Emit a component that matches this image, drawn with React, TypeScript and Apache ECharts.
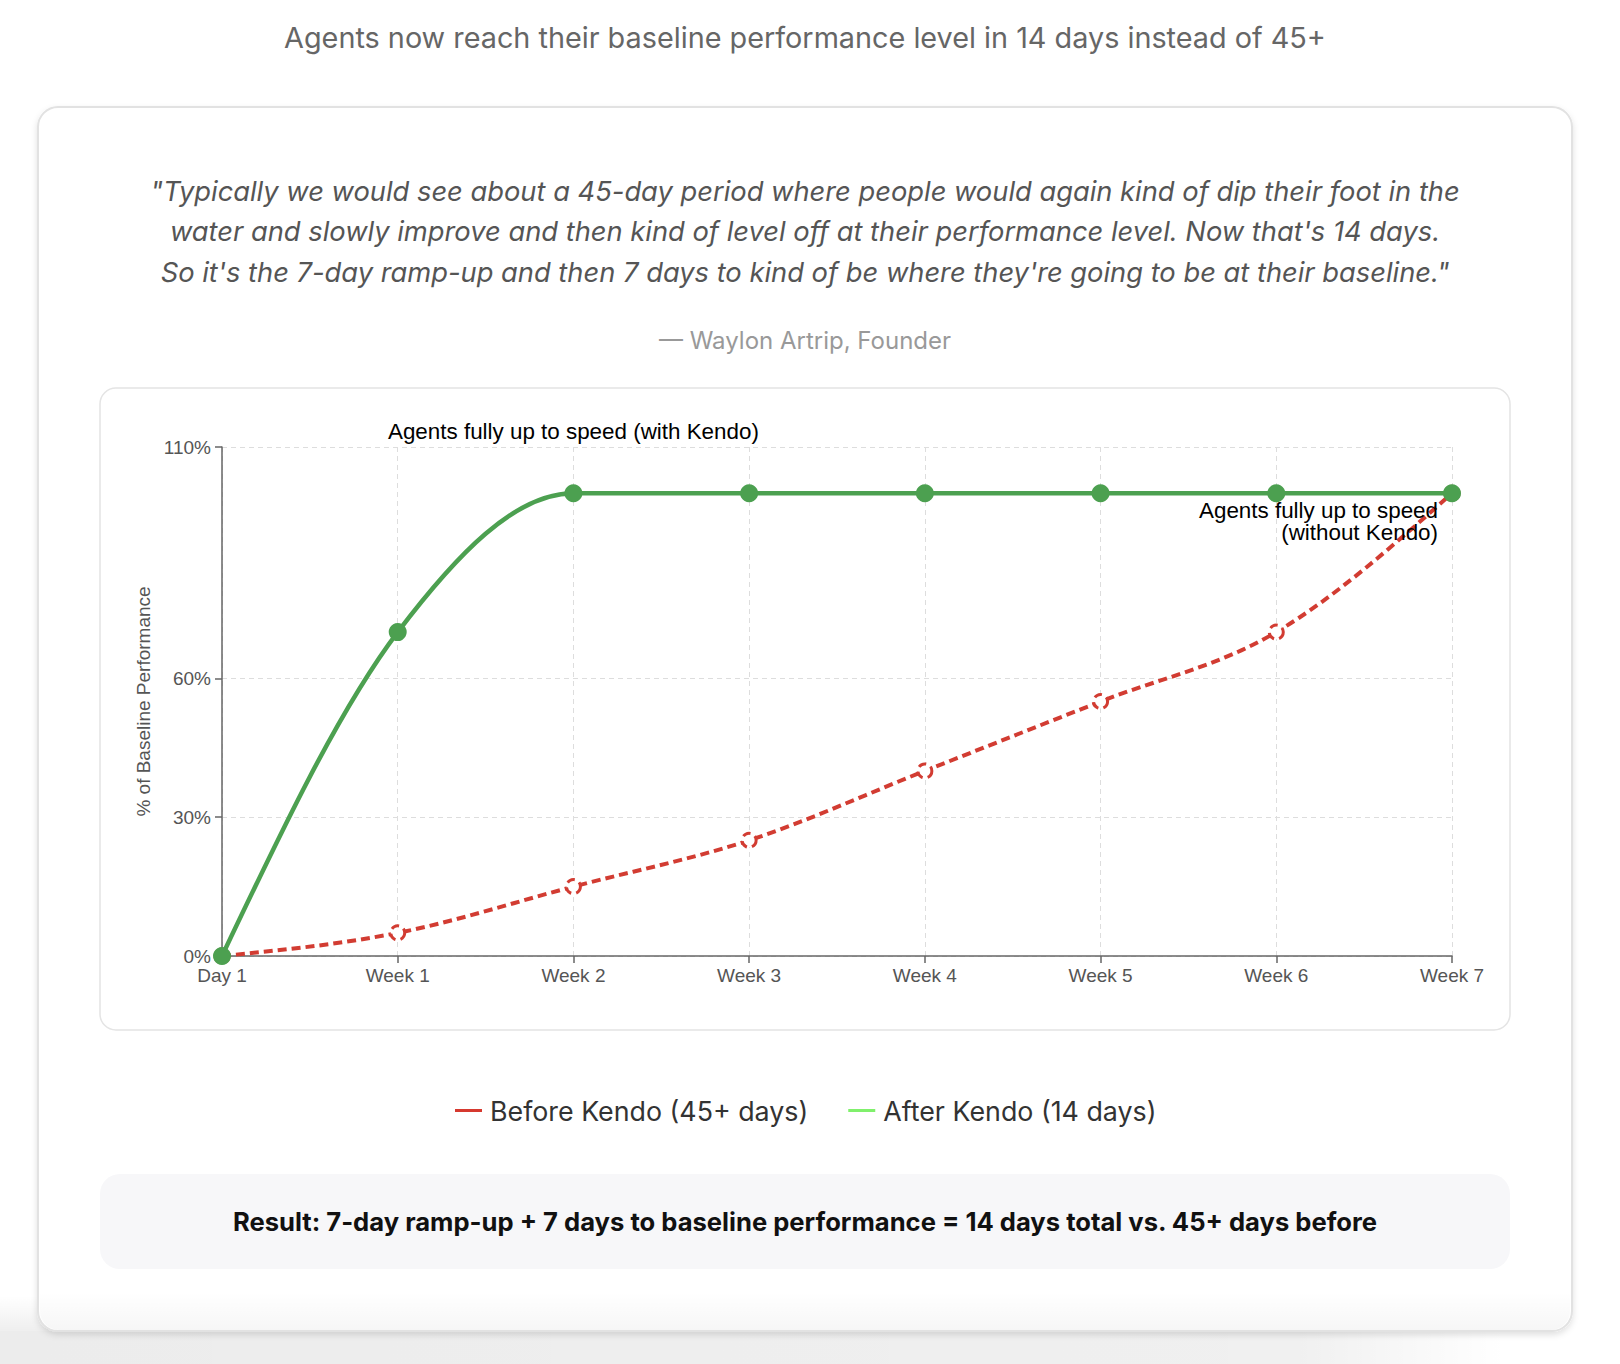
import React, { useEffect, useRef } from "react";
import * as echarts from "echarts";

const categories = ["Day 1", "Week 1", "Week 2", "Week 3", "Week 4", "Week 5", "Week 6", "Week 7"];
const beforeKendo = [0, 5, 15, 25, 40, 55, 70, 100];
const afterKendo = [0, 70, 100, 100, 100, 100, 100, 100];
const yTicks = [0, 30, 60, 110];
const seriesNames = ["Before Kendo (45+ days)", "After Kendo (14 days)"];

const headline = "Agents now reach their baseline performance level in 14 days instead of 45+";
const quoteLines = [
  "\"Typically we would see about a 45-day period where people would again kind of dip their foot in the",
  "water and slowly improve and then kind of level off at their performance level. Now that's 14 days.",
  "So it's the 7-day ramp-up and then 7 days to kind of be where they're going to be at their baseline.\"",
];
const attribution = "— Waylon Artrip, Founder";
const resultText = "Result: 7-day ramp-up + 7 days to baseline performance = 14 days total vs. 45+ days before";
const annotationWith = "Agents fully up to speed (with Kendo)";
const annotationWithout = "Agents fully up to speed\n(without Kendo)";
const yAxisName = "% of Baseline Performance";

const RED = "#d23c32";
const GREEN = "#4ca050";
const LEGEND_RED = "#d6392f";
const LEGEND_GREEN = "#80f06c";
const PAGE_FONT = "Inter, 'Noto Sans', sans-serif";
const CHART_FONT = "'Liberation Sans', Arial, sans-serif";

function txt(x: number, y: number, text: string, size: number, fill: string, extra: any = {}) {
  return {
    type: "text",
    x,
    y,
    z: 5,
    style: {
      text,
      fill,
      fontSize: size,
      fontFamily: PAGE_FONT,
      align: "center",
      verticalAlign: "middle",
      textAlign: "center",
      textVerticalAlign: "middle",
      ...extra,
    },
  };
}

// monotone cubic (monotone in x) path through pixel points
function monotonePath(pts: number[][]): string {
  const n = pts.length;
  if (n < 2) return "";
  const h: number[] = [];
  const s: number[] = [];
  for (let i = 0; i < n - 1; i++) {
    h[i] = pts[i + 1][0] - pts[i][0];
    s[i] = (pts[i + 1][1] - pts[i][1]) / h[i];
  }
  const t: number[] = new Array(n).fill(0);
  for (let i = 1; i < n - 1; i++) {
    const s0 = s[i - 1];
    const s1 = s[i];
    const h0 = h[i - 1];
    const h1 = h[i];
    const p = (s0 * h1 + s1 * h0) / (h0 + h1);
    t[i] = (Math.sign(s0) + Math.sign(s1)) * Math.min(Math.abs(s0), Math.abs(s1), 0.5 * Math.abs(p)) || 0;
  }
  if (n === 2) {
    t[0] = s[0];
    t[1] = s[0];
  } else {
    t[0] = (3 * s[0] - t[1]) / 2;
    t[n - 1] = (3 * s[n - 2] - t[n - 2]) / 2;
  }
  let d = `M${pts[0][0]},${pts[0][1]}`;
  for (let i = 0; i < n - 1; i++) {
    const dx = h[i] / 3;
    d += ` C${pts[i][0] + dx},${pts[i][1] + dx * t[i]} ${pts[i + 1][0] - dx},${pts[i + 1][1] - dx * t[i + 1]} ${pts[i + 1][0]},${pts[i + 1][1]}`;
  }
  return d;
}

function curveSeries(name: string, values: number[], style: any) {
  return {
    type: "custom",
    name,
    coordinateSystem: "cartesian2d",
    silent: true,
    data: values.map((v, i) => [i, v]),
    encode: { x: 0, y: 1 },
    renderItem: (params: any, api: any) => {
      if (params.dataIndex !== 0) return null;
      const pts = values.map((v, i) => api.coord([i, v]));
      return {
        type: "path",
        shape: { pathData: monotonePath(pts) },
        style: { fill: "none", ...style },
      };
    },
  };
}

export default function App() {
  const ref = useRef<HTMLDivElement>(null);
  useEffect(() => {
    document.body.style.margin = "0";
    if (!ref.current) return;
    const chart = echarts.init(ref.current, null, { renderer: "svg" });
    const option: any = {
      animation: false,
      backgroundColor: "#ffffff",
      graphic: [
        {
          type: "rect",
          z: -20,
          shape: { x: 0, y: 1331, width: 1620, height: 33 },
          style: {
            fill: new echarts.graphic.LinearGradient(0, 0, 1, 0, [
              { offset: 0, color: "rgba(0,0,0,0.075)" },
              { offset: 0.8, color: "rgba(0,0,0,0.06)" },
              { offset: 0.93, color: "rgba(0,0,0,0)" },
              { offset: 1, color: "rgba(0,0,0,0)" },
            ]),
          },
        },
        {
          type: "rect",
          z: -20,
          shape: { x: 0, y: 1296, width: 1500, height: 35 },
          style: {
            fill: new echarts.graphic.LinearGradient(0, 0, 0, 1, [
              { offset: 0, color: "rgba(0,0,0,0)" },
              { offset: 1, color: "rgba(0,0,0,0.065)" },
            ]),
          },
        },
        {
          type: "rect",
          z: -10,
          shape: { x: 38, y: 107, width: 1534, height: 1224, r: 20 },
          style: {
            fill: "#ffffff",
            stroke: "#e2e2e2",
            lineWidth: 2,
            shadowBlur: 6,
            shadowOffsetY: 3,
            shadowColor: "rgba(0,0,0,0.12)",
          },
        },
        {
          type: "rect",
          z: -8,
          shape: { x: 40, y: 1292, width: 1530, height: 38, r: [0, 0, 19, 19] },
          style: {
            fill: new echarts.graphic.LinearGradient(0, 0, 0, 1, [
              { offset: 0, color: "rgba(0,0,0,0)" },
              { offset: 1, color: "rgba(0,0,0,0.035)" },
            ]),
          },
        },
        {
          type: "rect",
          z: -9,
          shape: { x: 100, y: 388, width: 1410, height: 642, r: 16 },
          style: { fill: "#ffffff", stroke: "#e4e4e4", lineWidth: 1.5 },
        },
        {
          type: "rect",
          z: -9,
          shape: { x: 100, y: 1174, width: 1410, height: 95, r: 20 },
          style: { fill: "#f7f7f9" },
        },
        txt(805, 37, headline, 28.8, "#666666"),
        txt(805, 191, quoteLines[0], 27.3, "#555555", { fontStyle: "italic" }),
        txt(805, 231, quoteLines[1], 27.3, "#555555", { fontStyle: "italic" }),
        txt(805, 272, quoteLines[2], 27.3, "#555555", { fontStyle: "italic" }),
        txt(805, 340, attribution, 24, "#999999"),
        txt(805, 1221, resultText, 25.6, "#111111", { fontWeight: 700 }),
      ],
      grid: { left: 222, right: 168, top: 447, bottom: 408, containLabel: false },
      legend: {
        left: 450,
        top: 1092,
        icon: "rect",
        itemWidth: 27,
        itemHeight: 3,
        itemGap: 40,
        textStyle: { fontSize: 26.8, color: "#333333", fontFamily: PAGE_FONT, padding: [0, 0, 0, 3] },
        data: [
          { name: seriesNames[0], itemStyle: { color: LEGEND_RED, borderWidth: 0, opacity: 1 } },
          { name: seriesNames[1], itemStyle: { color: LEGEND_GREEN, borderWidth: 0, opacity: 1 } },
        ],
      },
      xAxis: {
        type: "category",
        data: categories,
        boundaryGap: false,
        axisLine: { lineStyle: { color: "#666666", width: 1.5 } },
        axisTick: { show: true, length: 7, alignWithLabel: true, lineStyle: { color: "#666666", width: 1.5 } },
        axisLabel: { color: "#555555", fontSize: 19, fontFamily: CHART_FONT, margin: 10 },
        splitLine: { show: true, lineStyle: { color: "#dddddd", type: [5, 4], width: 1 } },
      },
      yAxis: {
        type: "value",
        min: 0,
        max: 110,
        name: yAxisName,
        nameLocation: "middle",
        nameGap: 66,
        nameTextStyle: { color: "#555555", fontSize: 19, fontFamily: CHART_FONT },
        axisLine: { show: true, lineStyle: { color: "#666666", width: 1.5 } },
        axisTick: { show: true, length: 7, customValues: yTicks, lineStyle: { color: "#666666", width: 1.5 } },
        axisLabel: {
          color: "#555555",
          fontSize: 19,
          fontFamily: CHART_FONT,
          margin: 11,
          customValues: yTicks,
          formatter: (v: number) => `${v}%`,
        },
        splitLine: { show: true, lineStyle: { color: "#dddddd", type: [5, 4], width: 1 } },
      },
      series: [
        curveSeries("before-curve", beforeKendo, { stroke: RED, lineWidth: 4, lineDash: [9, 5] }),
        {
          name: seriesNames[0],
          type: "line",
          data: beforeKendo,
          symbol: "circle",
          symbolSize: 14,
          lineStyle: { color: RED, width: 0, opacity: 0 },
          itemStyle: { color: "#ffffff", borderColor: RED, borderWidth: 3, borderType: [8, 5] },
          markPoint: {
            symbol: "circle",
            symbolSize: 0,
            data: [
              {
                coord: [categories[7], beforeKendo[7]],
                label: {
                  show: true,
                  position: "inside",
                  formatter: annotationWithout,
                  align: "right",
                  verticalAlign: "middle",
                  offset: [-14, 28],
                  lineHeight: 22,
                  color: "#000000",
                  fontSize: 22.4,
                  fontFamily: CHART_FONT,
                },
              },
            ],
          },
        },
        curveSeries("after-curve", afterKendo, { stroke: GREEN, lineWidth: 4.5 }),
        {
          name: seriesNames[1],
          type: "line",
          data: afterKendo,
          symbol: "circle",
          symbolSize: 18,
          lineStyle: { color: GREEN, width: 0, opacity: 0 },
          itemStyle: { color: GREEN },
          markPoint: {
            symbol: "circle",
            symbolSize: 0,
            data: [
              {
                coord: [categories[2], yTicks[3]],
                label: {
                  show: true,
                  position: "inside",
                  formatter: annotationWith,
                  offset: [0, -16],
                  color: "#000000",
                  fontSize: 22.4,
                  fontFamily: CHART_FONT,
                },
              },
            ],
          },
        },
      ],
    };
    chart.setOption(option);
    return () => chart.dispose();
  }, []);
  return <div ref={ref} style={{ width: 1620, height: 1364 }} />;
}
